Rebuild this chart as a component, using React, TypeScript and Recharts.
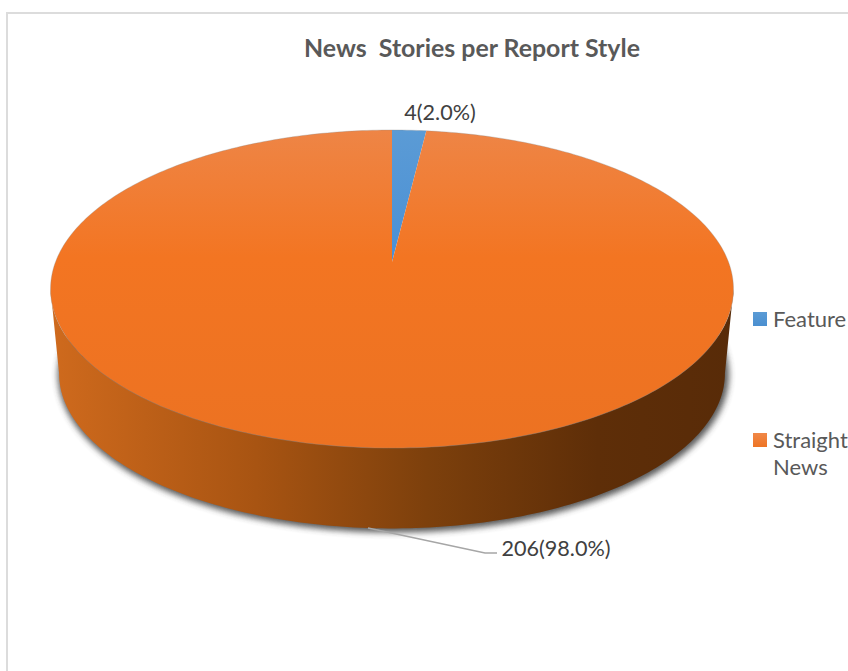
import React from "react";
import { PieChart, Pie, Legend } from "recharts";

const STYLES = ["Feature", "Straight News"];
const STORIES = [4, 206];
const SHARES = [2.0, 98.0];

const WIDTH = 848;
const HEIGHT = 671;
const FONT = "Lato, 'Open Sans', sans-serif";

// The disc is a circle seen in perspective: the far half is foreshortened
const CX = 392;
const CY = 262;
const RADIUS = 336.5;
const TILT = 0.17;
const SQUASH = 0.459;
const BOTTOM = { scale: 0.975, drop: 85 };

const FILLS = ["url(#featureTop)", "url(#newsTop)"];
const SWATCHES = [
  "linear-gradient(#5b9bd5, #4a8fd0)",
  "linear-gradient(#f08848, #ee7424)",
];
const LABEL_SPOTS = [
  { x: 440, y: 120 },
  { x: 556, y: 556 },
];
const data = STYLES.map((name, i) => ({ name, value: STORIES[i], fill: FILLS[i] }));

function project(deg: number, cx: number, cy: number, r: number, scale = 1, drop = 0) {
  const t = (deg * Math.PI) / 180;
  const u = Math.sin(t);
  const v = Math.cos(t);
  const w = 1 + TILT * v;
  return [
    cx + (r * scale * u) / w,
    cy + drop - (r * SQUASH * scale * v) / w,
  ];
}

function arc(from: number, to: number, cx: number, cy: number, r: number, scale = 1, drop = 0) {
  const pts: string[] = [];
  const steps = Math.max(2, Math.ceil(Math.abs(to - from)));
  for (let i = 0; i <= steps; i++) {
    const p = project(from + ((to - from) * i) / steps, cx, cy, r, scale, drop);
    pts.push(p[0].toFixed(2) + " " + p[1].toFixed(2));
  }
  return pts;
}

// Pie sector drawn on the tilted disc, with a side wall where it faces the front
function DiscSector(props: any) {
  const { cx, cy, outerRadius, startAngle, endAngle, fill } = props;
  const from = 90 - startAngle;
  const to = 90 - endAngle;
  const rim = arc(from, to, cx, cy, outerRadius);
  const face = "M" + cx + " " + cy + " L" + rim.join(" L") + " Z";

  // silhouette of the disc on both sides
  const edge = (Math.acos(-TILT) * 180) / Math.PI;
  const wallFrom = Math.max(from, edge);
  const wallTo = Math.min(to, 360 - edge);
  const hasWall = wallTo > wallFrom;
  const wall = hasWall
    ? "M" +
      arc(wallFrom, wallTo, cx, cy, outerRadius)
        .concat(arc(wallTo, wallFrom, cx, cy, outerRadius, BOTTOM.scale, BOTTOM.drop))
        .join(" L") +
      " Z"
    : "";
  // the shadow only follows the lower rim, it wraps a little way up each side
  const shadow = hasWall
    ? "M" + arc(wallFrom - 22, wallTo + 22, cx, cy, outerRadius, BOTTOM.scale, BOTTOM.drop).join(" L") + " Z"
    : "";

  return (
    <g>
      {hasWall && (
        <>
          <path d={shadow} fill="#3a3a3a" stroke="#3a3a3a" strokeWidth={5} transform="translate(1.5 1.5)" filter="url(#discShadow)" opacity={0.85} />
          <path d={wall} fill="url(#newsWall)" />
        </>
      )}
      <path d={face} fill={fill} stroke="none" />
      <path d={"M" + rim.join(" L")} fill="none" stroke="#8c8c8c" strokeWidth={0.7} opacity={0.45} />
    </g>
  );
}

function StoryLabel(props: any) {
  const { index, value } = props;
  const spot = LABEL_SPOTS[index];
  return (
    <g>
      {index === 1 && (
        <polyline points="368,528 485,553 497,553" fill="none" stroke="#a6a6a6" strokeWidth={1.5} />
      )}
      <text x={spot.x} y={spot.y} textAnchor="middle" fontFamily={FONT} fontSize={21.6} fill="#404040">
        {value + "(" + SHARES[index].toFixed(1) + "%)"}
      </text>
    </g>
  );
}

function StyleLegend({ payload }: any) {
  return (
    <div style={{ fontFamily: FONT, fontSize: 22, lineHeight: "27px", color: "#595959" }}>
      {(payload ?? []).map((entry: any, i: number) => (
        <div key={entry.value} style={{ position: "absolute", left: 0, top: i * 121, width: 95, display: "flex" }}>
          <span style={{ width: 14, height: 14, marginTop: 7, marginRight: 6, flex: "none", background: SWATCHES[i] }} />
          <span>{entry.value}</span>
        </div>
      ))}
    </div>
  );
}

export default function App() {
  return (
    <div style={{ position: "absolute", left: 0, top: 0, width: WIDTH, height: HEIGHT, background: "#fff", overflow: "hidden" }}>
      <div style={{ position: "absolute", left: 6, top: 12, width: WIDTH, height: HEIGHT, borderLeft: "2px solid #dcdcdc", borderTop: "2px solid #dcdcdc" }} />
      <PieChart width={WIDTH} height={HEIGHT} margin={{ top: 0, right: 0, bottom: 0, left: 0 }} style={{ position: "absolute", left: 0, top: 0 }}>
        <defs>
          <linearGradient id="newsTop" gradientUnits="userSpaceOnUse" x1={0} y1={130} x2={0} y2={448}>
            <stop offset="0" stopColor="#ee8546" />
            <stop offset="0.4" stopColor="#f37522" />
            <stop offset="1" stopColor="#ec7222" />
          </linearGradient>
          <linearGradient id="featureTop" x1="0" y1="0" x2="0" y2="1">
            <stop offset="0" stopColor="#5b9bd5" />
            <stop offset="1" stopColor="#4a90d6" />
          </linearGradient>
          <linearGradient id="newsWall" gradientUnits="userSpaceOnUse" x1={51} y1={0} x2={734} y2={0}>
            <stop offset="0" stopColor="#cf6a1d" />
            <stop offset="0.3" stopColor="#a85412" />
            <stop offset="0.55" stopColor="#7d400c" />
            <stop offset="0.8" stopColor="#5e2e08" />
            <stop offset="1" stopColor="#582b08" />
          </linearGradient>
          <filter id="discShadow" x="-5%" y="-10%" width="110%" height="125%">
            <feGaussianBlur stdDeviation="3" />
          </filter>
        </defs>
        <text x={472} y={57} textAnchor="middle" fontFamily={FONT} fontSize={24.9} fontWeight={700} fill="#595959" xmlSpace="preserve">
          News  Stories per Report Style
        </text>
        <Pie
          data={data}
          dataKey="value"
          nameKey="name"
          cx={CX}
          cy={CY}
          innerRadius={0}
          outerRadius={RADIUS}
          startAngle={90}
          endAngle={-270}
          stroke="none"
          shape={DiscSector}
          label={StoryLabel}
          labelLine={false}
          isAnimationActive={false}
        />
        <Legend
          layout="vertical"
          align="right"
          verticalAlign="top"
          content={StyleLegend}
          wrapperStyle={{ left: 753, top: 305, width: 95, height: 180 }}
        />
      </PieChart>
    </div>
  );
}
